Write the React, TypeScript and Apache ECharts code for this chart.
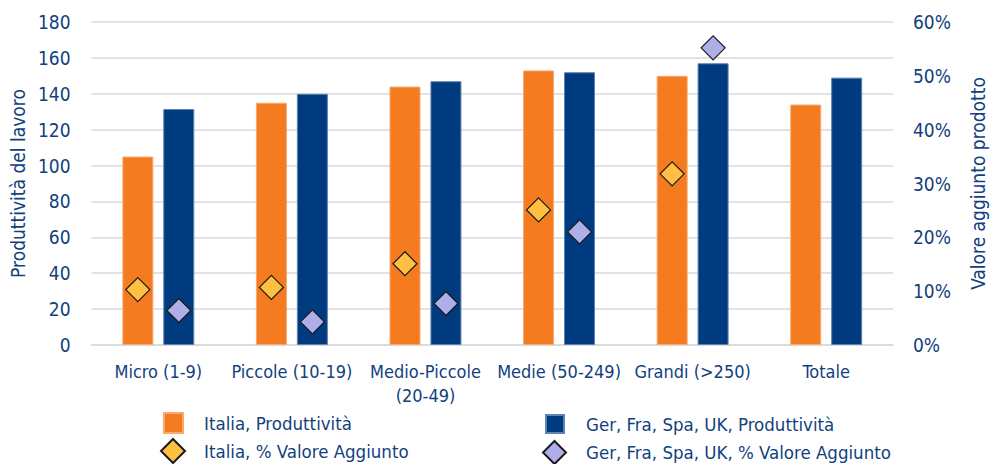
import React, { useEffect, useRef } from "react";
import * as echarts from "echarts";

const categories = ["Micro (1-9)", "Piccole (10-19)", "Medio-Piccole\n(20-49)", "Medie (50-249)", "Grandi (>250)", "Totale"];
const italiaProd = [105, 135, 144, 153, 150, 134];
const altriProd = [131.5, 140, 147, 152, 157, 149];
const italiaVA = [10.3, 10.7, 15.1, 25.1, 31.8, null];
const altriVA = [6.4, 4.3, 7.7, 21.0, 55.2, null];
const leftTicks = { min: 0, max: 180, interval: 20 };
const rightTicks = { min: 0, max: 60, interval: 10 };

const NAMES = [
  "Italia, Produttività",
  "Italia, % Valore Aggiunto",
  "Ger, Fra, Spa, UK, Produttività",
  "Ger, Fra, Spa, UK, % Valore Aggiunto",
];

const TXT = "#123F7E";
const FONT = "DejaVu Sans Condensed";

export default function App() {
  const ref = useRef<HTMLDivElement>(null);
  useEffect(() => {
    const chart = echarts.init(ref.current!, null, { renderer: "svg" });
    const legendBase = (name: string, left: number, top: number, icon: string, w: number, h: number, pad: number) => ({
      data: [name],
      left,
      top,
      icon,
      itemWidth: w,
      itemHeight: h,
      padding: 0,
      textStyle: { color: TXT, fontFamily: FONT, fontSize: 18.5, lineHeight: 19, padding: [0, 0, 0, pad] },
    });
    chart.setOption({
      animation: false,
      textStyle: { fontFamily: FONT },
      grid: { left: 90, right: 93, top: 22, bottom: 119, containLabel: false },
      legend: [
        legendBase(NAMES[0], 163, 412, "rect", 19, 20, 16),
        legendBase(NAMES[1], 160, 438, "diamond", 24, 24, 14),
        legendBase(NAMES[2], 545, 414, "rect", 18, 18, 17),
        legendBase(NAMES[3], 542, 440, "diamond", 23, 23, 15),
      ],
      xAxis: {
        type: "category",
        data: categories,
        axisLine: { show: true, lineStyle: { color: "#D9D9D9", width: 1.5 } },
        axisTick: { show: false },
        axisLabel: { color: TXT, fontFamily: FONT, fontSize: 18, margin: 14, lineHeight: 24, interval: 0 },
      },
      yAxis: [
        {
          type: "value",
          ...leftTicks,
          name: "Produttività del lavoro",
          nameLocation: "middle",
          nameRotate: 90,
          nameGap: 62,
          nameTextStyle: { color: TXT, fontFamily: FONT, fontSize: 19 },
          axisLine: { show: false },
          axisTick: { show: false },
          axisLabel: { color: TXT, fontFamily: FONT, fontSize: 19, margin: 21 },
          splitLine: { lineStyle: { color: "#D9D9D9", width: 1.5 } },
        },
        {
          type: "value",
          ...rightTicks,
          name: "Valore aggiunto prodotto",
          nameLocation: "middle",
          nameRotate: 90,
          nameGap: 75,
          nameTextStyle: { color: TXT, fontFamily: FONT, fontSize: 19 },
          axisLine: { show: false },
          axisTick: { show: false },
          axisLabel: { color: TXT, fontFamily: FONT, fontSize: 19, margin: 20, formatter: "{value}%" },
          splitLine: { show: false },
        },
      ],
      series: [
        {
          name: NAMES[0],
          type: "bar",
          data: italiaProd,
          barWidth: 31,
          barGap: "32%",
          itemStyle: { color: "#F47B20", borderColor: "#F9A870", borderWidth: 1 },
        },
        {
          name: NAMES[2],
          type: "bar",
          data: altriProd,
          barWidth: 31,
          itemStyle: { color: "#003B7F", borderColor: "#5F82B5", borderWidth: 1 },
        },
        {
          name: NAMES[1],
          type: "scatter",
          yAxisIndex: 1,
          data: italiaVA,
          symbol: "diamond",
          symbolSize: 24,
          symbolOffset: [-20.5, 0],
          z: 5,
          itemStyle: { color: "#FFBF40", borderColor: "#1A1A1A", borderWidth: 1.2, opacity: 1 },
        },
        {
          name: NAMES[3],
          type: "scatter",
          yAxisIndex: 1,
          data: altriVA,
          symbol: "diamond",
          symbolSize: 24,
          symbolOffset: [20.5, 0],
          z: 5,
          itemStyle: { color: "#AEAEE8", borderColor: "#1A1A1A", borderWidth: 1.2, opacity: 1 },
        },
      ],
    });
    return () => chart.dispose();
  }, []);
  return <div ref={ref} style={{ position: "fixed", left: 0, top: 0, width: 995, height: 464, background: "#fff" }} />;
}
